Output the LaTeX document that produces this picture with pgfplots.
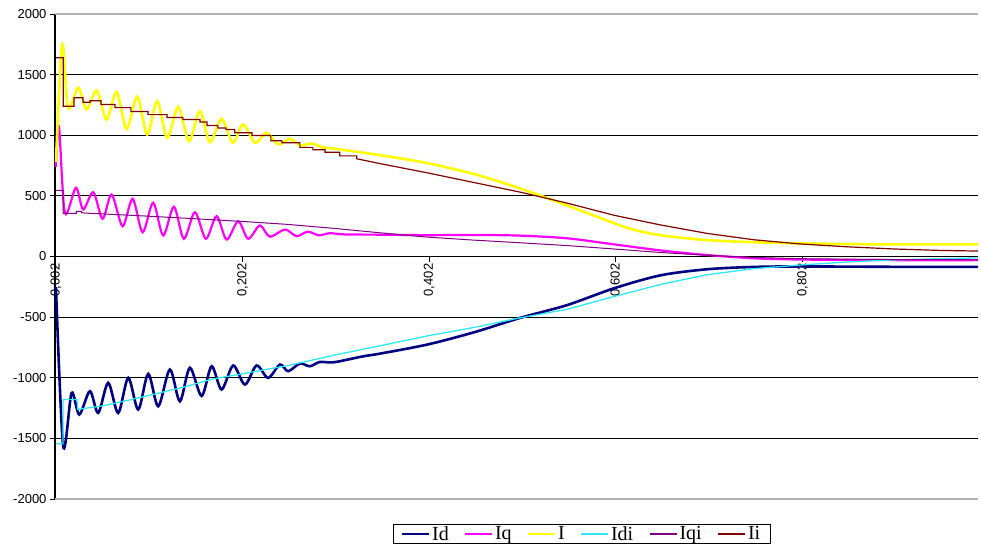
\documentclass[border=0pt]{standalone}
\usepackage{pgfplots}
\pgfplotsset{compat=1.18}
\usepackage{fontspec}
\setmainfont{Liberation Serif}
\newfontfamily\arialfont{Liberation Sans}
\definecolor{cId}{HTML}{000080}
\definecolor{cIq}{HTML}{FF00FF}
\definecolor{cI}{HTML}{FFFF00}
\definecolor{cIdi}{HTML}{30E8F0}
\definecolor{cIqi}{HTML}{800080}
\definecolor{cIi}{HTML}{800000}
\begin{document}
\begin{tikzpicture}
\useasboundingbox (-55pt,-51pt) rectangle (926pt,499pt);
\begin{axis}[
  at={(0pt,0pt)}, anchor=south west,
  scale only axis, width=923pt, height=485pt,
  xmin=0.001, xmax=0.99, ymin=-2000, ymax=2000,
  axis x line=middle, axis y line=left,
  axis line style={-, black, line width=1.6pt},
  hide obscured x ticks=false, hide obscured y ticks=false,
  tick align=outside,
  major tick length=5pt,
  tick style={black, line width=1pt},
  xtick={0.002,0.202,0.402,0.602,0.802},
  xticklabels={{0,002},{0,202},{0,402},{0,602},{0,802}},
  x tick label style={rotate=90, anchor=east, inner sep=2pt},
  ytick={-1500,-1000,-500,0,500,1000,1500},
  extra y ticks={-2000,2000},
  extra y tick style={grid style={black!30, line width=1.2pt}},
  ymajorgrids, grid style={black, line width=0.9pt},
  tick label style={font=\arialfont\fontsize{13}{15}\selectfont},
  /pgf/number format/assume math mode=true,
  /pgf/number format/1000 sep={},
  legend columns=6,
  legend style={at={(0.571,-0.0722)}, anchor=center, draw=black, line width=0.8pt,
    font=\fontsize{20}{22}\selectfont, inner xsep=8pt, inner ysep=0pt,
    /tikz/every even column/.append style={column sep=14pt}},
  legend image code/.code={\draw[#1, line width=1.3pt] (0pt,0pt) -- (27pt,0pt);},
]
\addplot[cId, line width=2.6pt, smooth] coordinates {
(0.002,-250)(0.0098,-1565)(0.0188,-1125)(0.0270,-1304)(0.0384,-1111)(0.0473,-1290)
(0.0580,-1042)(0.0687,-1290)(0.0795,-1001)(0.0902,-1262)(0.1009,-968)(0.1116,-1235)
(0.1241,-932)(0.1348,-1194)(0.1455,-918)(0.1581,-1150)(0.1688,-905)(0.1795,-1097)
(0.1919,-899)(0.2045,-1056)(0.2170,-899)(0.2294,-1001)(0.2420,-891)(0.2508,-946)
(0.2634,-883)(0.2741,-905)(0.2848,-870)(0.30,-872)(0.33,-825)(0.35,-800)(0.4,-726)
(0.45,-625)(0.5,-505)(0.55,-400)(0.6,-262)(0.65,-155)(0.7,-105)(0.75,-86)(0.8,-82)
(0.9,-85)(0.99,-85)};
\addlegendentry{Id}
\addplot[cIq, line width=2.2pt, smooth] coordinates {
(0.002,740)(0.0052,1075)(0.0116,360)(0.0234,567)(0.0312,388)(0.0420,530)(0.0520,311)
(0.0617,511)(0.0734,250)(0.0842,476)(0.0949,200)(0.1062,443)(0.1169,173)(0.1284,410)
(0.1391,146)(0.1509,365)(0.1627,146)(0.1741,333)(0.1849,140)(0.1973,291)(0.2080,146)
(0.2205,256)(0.2312,163)(0.2473,223)(0.2598,168)(0.2719,205)(0.2837,175)(0.2955,192)
(0.3116,182)(0.35,180)(0.4,176)(0.45,178)(0.5,172)(0.55,150)(0.6,100)(0.65,50)
(0.7,12)(0.75,-15)(0.8,-25)(0.9,-30)(0.99,-30)};
\addlegendentry{Iq}
\addplot[cI, line width=2.6pt, smooth] coordinates {
(0.002,780)(0.0087,1745)(0.0150,1227)(0.0259,1392)(0.0349,1213)(0.0456,1370)
(0.0563,1130)(0.0670,1356)(0.0777,1053)(0.0891,1317)(0.0998,1006)(0.1105,1281)
(0.1212,979)(0.1330,1235)(0.1445,951)(0.1563,1199)(0.1670,943)(0.1795,1136)
(0.1916,938)(0.2026,1089)(0.2152,938)(0.2277,1020)(0.2401,924)(0.2527,971)
(0.2634,916)(0.2762,932)(0.2880,899)(0.3,890)(0.35,835)(0.4,770)(0.45,680)
(0.5,560)(0.55,420)(0.6,275)(0.62,223)(0.65,175)(0.7,135)(0.75,118)(0.8,108)
(0.85,103)(0.9,100)(0.99,100)};
\addlegendentry{I}
\addplot[cIdi, line width=1.3pt] coordinates {
(0.002,-1545)(0.0095,-1545)(0.0095,-1180)(0.0245,-1180)(0.0255,-1260)(0.035,-1250)
(0.05,-1235)(0.08,-1185)(0.11,-1130)(0.14,-1075)(0.17,-1010)(0.2,-970)(0.25,-900)
(0.3,-814)(0.35,-735)(0.4,-655)(0.45,-585)(0.5,-505)(0.55,-435)(0.6,-330)(0.65,-230)
(0.7,-150)(0.75,-100)(0.8,-70)(0.85,-45)(0.9,-28)(0.95,-18)(0.99,-12)};
\addlegendentry{Idi}
\addplot[cIqi, line width=1.0pt] coordinates {
(0.002,545)(0.0098,545)(0.0098,355)(0.024,355)(0.024,372)(0.0295,372)(0.0295,360)
(0.05,352)(0.1,333)(0.15,312)(0.2,290)(0.25,265)(0.3,232)(0.35,195)(0.4,160)
(0.45,135)(0.5,113)(0.55,90)(0.6,62)(0.65,33)(0.7,10)(0.75,-8)(0.8,-18)(0.85,-22)
(0.9,-25)(0.99,-27)};
\addlegendentry{Iqi}
\addplot[cIi, line width=1.2pt] coordinates {
(0.002,1640)(0.0098,1640)(0.0098,1240)(0.0213,1240)(0.0213,1310)(0.0309,1310)
(0.0309,1273)(0.0384,1273)(0.0384,1285)(0.0502,1285)(0.0502,1254)(0.0652,1254)
(0.0652,1228)(0.0823,1228)(0.0823,1196)(0.1006,1196)(0.1006,1170)(0.1209,1170)
(0.1209,1147)(0.1380,1147)(0.1380,1130)(0.1563,1130)(0.1563,1110)(0.1638,1110)
(0.1638,1081)(0.1755,1081)(0.1755,1060)(0.1841,1060)(0.1841,1048)(0.1937,1048)
(0.1937,1020)(0.2120,1020)(0.2120,998)(0.2323,998)(0.2323,955)(0.2441,955)
(0.2441,938)(0.2634,938)(0.2634,900)(0.2773,900)(0.2773,880)(0.2902,880)
(0.2902,860)(0.3062,860)(0.3062,830)(0.3244,830)(0.3244,806)(0.35,765)(0.4,690)
(0.45,610)(0.5,530)(0.55,440)(0.6,340)(0.65,260)(0.7,190)(0.75,138)(0.8,103)
(0.85,80)(0.9,62)(0.95,50)(0.99,45)};
\addlegendentry{Ii}
\end{axis}
\end{tikzpicture}
\end{document}
